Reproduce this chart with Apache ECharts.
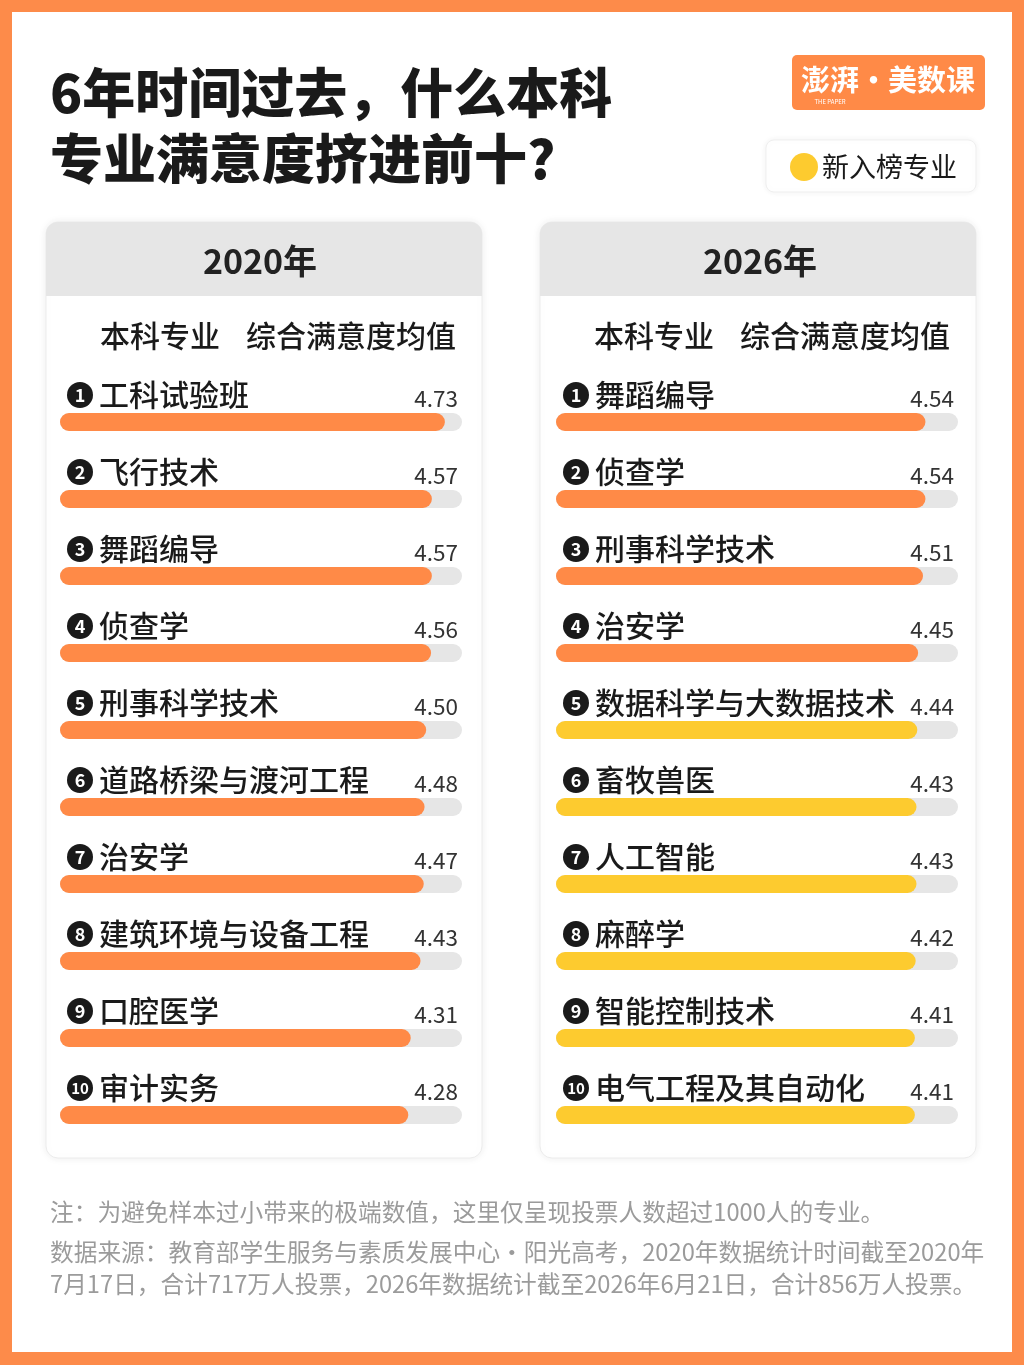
<!DOCTYPE html>
<html><head><meta charset="utf-8">
<script src="https://cdn.jsdelivr.net/npm/echarts@6/dist/echarts.min.js"></script>
<style>html,body{margin:0;padding:0;background:#fff}#c{width:1024px;height:1365px}</style>
</head><body><div id="c"></div>
<script>
// ---- data ----
const majors2020 = ['工科试验班','飞行技术','舞蹈编导','侦查学','刑事科学技术','道路桥梁与渡河工程','治安学','建筑环境与设备工程','口腔医学','审计实务'];
const scores2020 = [4.73,4.57,4.57,4.56,4.50,4.48,4.47,4.43,4.31,4.28];
const majors2026 = ['舞蹈编导','侦查学','刑事科学技术','治安学','数据科学与大数据技术','畜牧兽医','人工智能','麻醉学','智能控制技术','电气工程及其自动化'];
const scores2026 = [4.54,4.54,4.51,4.45,4.44,4.43,4.43,4.42,4.41,4.41];
const isNew2026 = [false,false,false,false,true,true,true,true,true,true];
const isNew2020 = [false,false,false,false,false,false,false,false,false,false];
const panelYears = ['2020年','2026年'];
const colHeaders = ['本科专业','综合满意度均值'];
const titleLines = ['6年时间过去，什么本科','专业满意度挤进前十?'];
const legendText = '新入榜专业';
const noteLines = ['注：为避免样本过小带来的极端数值，这里仅呈现投票人数超过1000人的专业。',
 '数据来源：教育部学生服务与素质发展中心·阳光高考，2020年数据统计时间截至2020年',
 '7月17日，合计717万人投票，2026年数据统计截至2026年6月21日，合计856万人投票。'];
const AXIS_MAX = 4.94;

const FONT = '"Noto Sans CJK SC","Noto Sans",sans-serif';
const ORANGE = '#FF8A47', YELLOW = '#FDCB2F', TRACK = '#E6E6E6';

const chart = echarts.init(document.getElementById('c'), null, {renderer:'canvas'});

function numRich(){
  const base = {width:26,height:26,lineHeight:26,borderRadius:13,backgroundColor:'#1a1a1a',color:'#fff',align:'center',fontFamily:FONT,fontWeight:'bold',fontSize:18};
  return {
    n: base,
    n2: Object.assign({}, base, {fontSize:15}),
    t: {fontSize:30,fontWeight:500,color:'#1a1a1a',fontFamily:FONT,padding:[0,0,0,6]}
  };
}

const grids = [{left:60,width:402,top:383.5,height:770},{left:556,width:402,top:383.5,height:770}];
const sets = [[majors2020,scores2020,isNew2020],[majors2026,scores2026,isNew2026]];

const xAxis = [], yAxis = [], series = [];
sets.forEach((s,i)=>{
  const [names, vals, nw] = s;
  xAxis.push({gridIndex:i,type:'value',min:0,max:AXIS_MAX,show:false});
  yAxis.push({gridIndex:i,type:'category',data:names,inverse:true,show:false});
  series.push({
    type:'bar',xAxisIndex:i,yAxisIndex:i,barWidth:18,barGap:'-100%',silent:true,z:2,
    data:vals.map(()=>AXIS_MAX),
    itemStyle:{color:TRACK,borderRadius:9},
    label:{show:true,position:[398,-15],align:'right',verticalAlign:'middle',
      formatter:p=>vals[p.dataIndex].toFixed(2),fontSize:22.5,color:'#333',fontFamily:FONT}
  });
  series.push({
    type:'bar',xAxisIndex:i,yAxisIndex:i,barWidth:18,silent:true,z:3,
    data:vals.map((v,k)=>({value:v,itemStyle:{color:nw[k]?YELLOW:ORANGE}})),
    itemStyle:{borderRadius:9},
    label:{show:true,position:[7,-18],align:'left',verticalAlign:'middle',
      formatter:p=>{const r=p.dataIndex+1;return (r>=10?'{n2|'+r+'}':'{n|'+r+'}')+'{t|'+names[p.dataIndex]+'}';},
      rich:numRich()}
  });
});

const graphic = [];
// frame
graphic.push({type:'rect',shape:{x:0,y:0,width:1024,height:1365},style:{fill:'#FD8B4A'},z:-10});
graphic.push({type:'rect',shape:{x:12,y:12,width:1000,height:1340},style:{fill:'#ffffff'},z:-9});
// title
titleLines.forEach((t,k)=>graphic.push({type:'text',x:50,y:93+k*66,style:{text:t,fontSize:53,fontWeight:900,fill:'#1a1a1a',fontFamily:FONT,verticalAlign:'middle'},z:5}));
// logo
graphic.push({type:'rect',shape:{x:792,y:55,width:193,height:55,r:5},style:{fill:'#FF8A47'},z:5});
graphic.push({type:'text',x:888,y:80,style:{text:'澎湃·美数课',fontSize:29,fontWeight:'bold',fill:'#fff',fontFamily:FONT,align:'center',verticalAlign:'middle'},z:6});
graphic.push({type:'text',x:830,y:102,style:{text:'THE PAPER',fontSize:6,fill:'#fff',fontFamily:FONT,align:'center',verticalAlign:'middle'},z:6});
// legend
graphic.push({type:'rect',shape:{x:766,y:140,width:210,height:52,r:8},style:{fill:'#fff',stroke:'#efefef',lineWidth:1,shadowBlur:6,shadowColor:'rgba(0,0,0,0.06)'},z:5});
graphic.push({type:'circle',shape:{cx:804,cy:167,r:14},style:{fill:YELLOW},z:6});
graphic.push({type:'text',x:822,y:167,style:{text:legendText,fontSize:27,fill:'#1a1a1a',fontFamily:FONT,verticalAlign:'middle'},z:6});
// panels
const yearCenters = [260,760];
[46,540].forEach((px,i)=>{
  graphic.push({type:'rect',shape:{x:px,y:222,width:436,height:936,r:12},style:{fill:'#fff',stroke:'#ececec',lineWidth:1,shadowBlur:8,shadowColor:'rgba(0,0,0,0.07)'},z:0});
  graphic.push({type:'rect',shape:{x:px,y:222,width:436,height:74,r:[12,12,0,0]},style:{fill:'#E6E6E6'},z:1});
  graphic.push({type:'text',x:yearCenters[i],y:261,style:{text:panelYears[i],fontSize:34,fontWeight:'bold',fill:'#222',fontFamily:FONT,align:'center',verticalAlign:'middle'},z:2});
  graphic.push({type:'text',x:px+54,y:336,style:{text:colHeaders[0],fontSize:30,fontWeight:500,fill:'#1a1a1a',fontFamily:FONT,verticalAlign:'middle'},z:2});
  graphic.push({type:'text',x:px+410,y:336,style:{text:colHeaders[1],fontSize:30,fontWeight:500,fill:'#1a1a1a',fontFamily:FONT,align:'right',verticalAlign:'middle'},z:2});
});
// notes
noteLines.forEach((t,k)=>graphic.push({type:'text',x:50,y:[1212,1252,1284][k],style:{text:t,fontSize:23.7,fill:'#9b9b9b',fontFamily:FONT,verticalAlign:'middle'},z:5}));

chart.setOption({
  animation:false,
  grid:grids,
  xAxis, yAxis, series, graphic
});
</script></body></html>
